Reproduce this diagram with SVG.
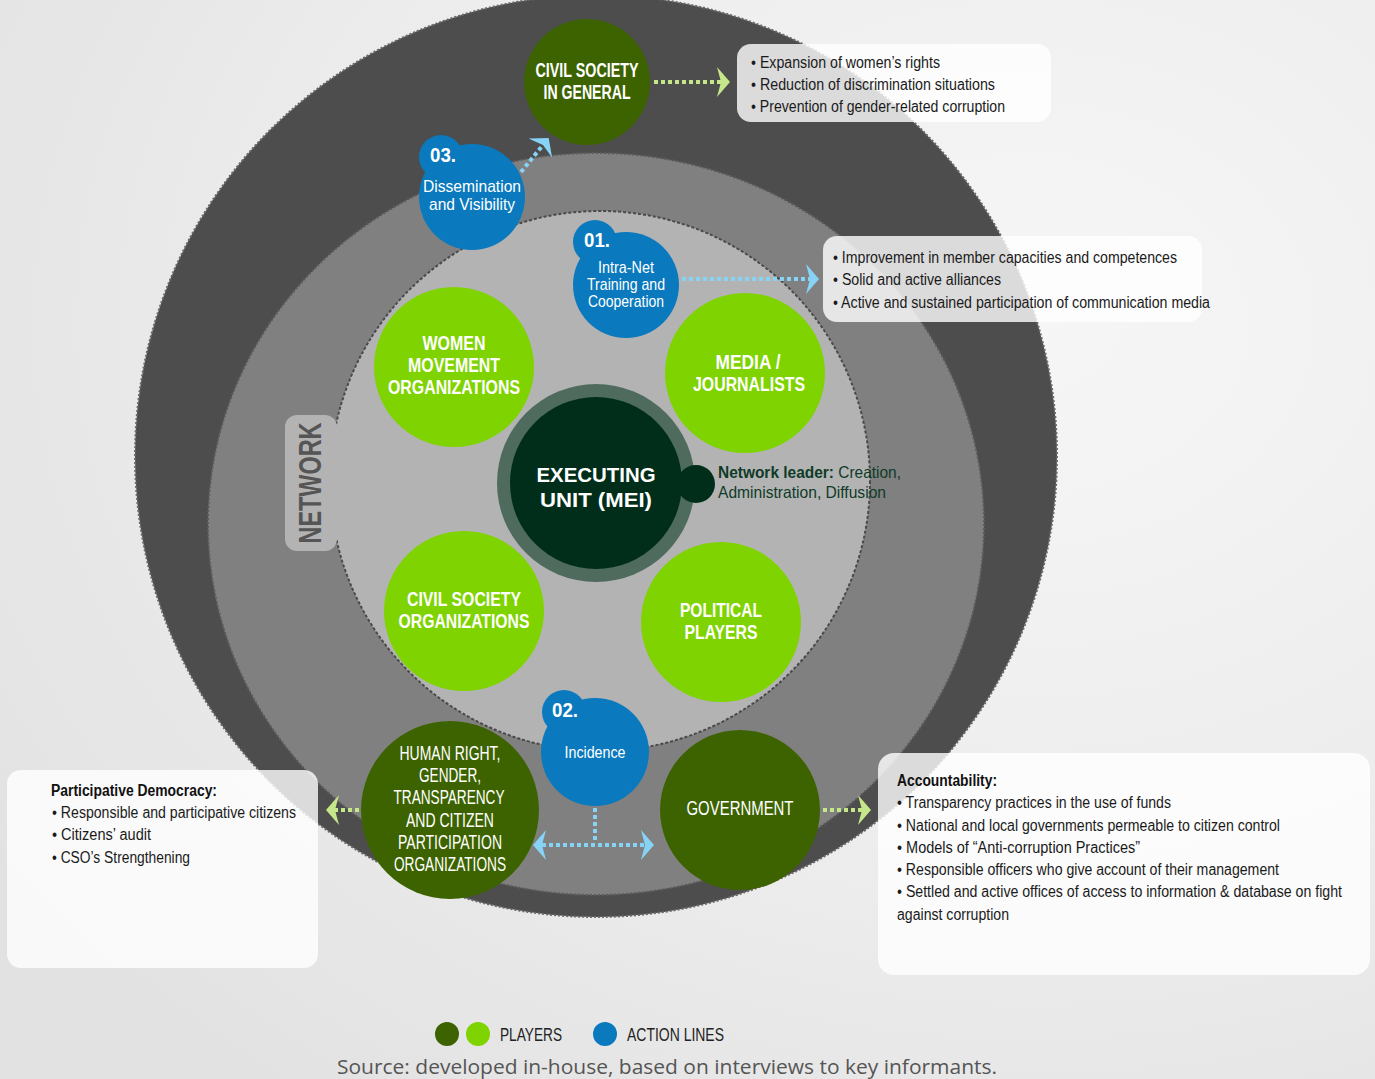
<svg xmlns="http://www.w3.org/2000/svg" width="1375" height="1079" viewBox="0 0 1375 1079">
<defs>
<radialGradient id="bg" cx="0.75" cy="0.3" r="0.9">
<stop offset="0" stop-color="#f6f6f6"/>
<stop offset="0.6" stop-color="#ececec"/>
<stop offset="1" stop-color="#e2e2e2"/>
</radialGradient>
<marker id="ag" markerUnits="userSpaceOnUse" markerWidth="16" markerHeight="30" refX="4" refY="15" orient="auto" viewBox="0 0 16 30"><path d="M0,0 L13,15 L0,30 L4,15 Z" fill="#c6e68a"/></marker>
<marker id="ab" markerUnits="userSpaceOnUse" markerWidth="16" markerHeight="30" refX="4" refY="15" orient="auto" viewBox="0 0 16 30"><path d="M0,0 L13,15 L0,30 L4,15 Z" fill="#86d3f5"/></marker>
<marker id="abs" markerUnits="userSpaceOnUse" markerWidth="16" markerHeight="30" refX="4" refY="15" orient="auto-start-reverse" viewBox="0 0 16 30"><path d="M0,0 L13,15 L0,30 L4,15 Z" fill="#86d3f5"/></marker>
</defs>
<style>
text{font-family:"Liberation Sans",Arial,sans-serif}
.box{fill:#ffffff;fill-opacity:0.8}
.bt{font-size:16px;fill:#1a1a1a}
.bb{font-size:16px;fill:#111;font-weight:bold}
.lbl{font-size:21px;fill:#fff;font-weight:bold;text-anchor:middle}
.lr{font-size:19.5px;fill:#fff;text-anchor:middle}
.al{font-size:17px;fill:#fff;text-anchor:middle}
.num{font-size:21px;fill:#fff;font-weight:bold}
.dg{fill:#3d6300}
.lg{fill:#7ed300}
.bl{fill:#0a79bd}
.cg{fill:none;stroke:#c6e68a;stroke-width:4;stroke-dasharray:4 3}
.cb{fill:none;stroke:#86d3f5;stroke-width:4;stroke-dasharray:4 3}
</style>
<rect width="1375" height="1079" fill="url(#bg)"/>
<g id="rings">
<circle cx="596" cy="456" r="461" fill="#4d4d4d" stroke="#6a6a6a" stroke-width="2" stroke-dasharray="2 2"/>
<ellipse cx="596" cy="524" rx="388" ry="371" fill="#808080" stroke="#5c5c5c" stroke-width="2" stroke-dasharray="2 2"/>
<circle cx="600" cy="481" r="270" fill="#b3b3b3" stroke="#4a4a4a" stroke-width="2" stroke-dasharray="3 2"/>
</g>
<g id="network-label">
<rect x="285" y="415" width="52" height="136" rx="12" fill="#b3b3b3"/>
<text transform="translate(321,483) rotate(-90)" text-anchor="middle" font-size="31" font-weight="bold" fill="#555" textLength="121" lengthAdjust="spacingAndGlyphs">NETWORK</text>
</g>
<g id="connectors">
<line class="cg" x1="654" y1="82" x2="721" y2="82" marker-end="url(#ag)"/>
<line class="cb" x1="682" y1="279" x2="810" y2="279" marker-end="url(#ab)"/>
<line class="cb" x1="521" y1="172" x2="543" y2="145" marker-end="url(#ab)"/>
<line class="cg" x1="359" y1="810" x2="335" y2="810" marker-end="url(#ag)"/>
<line class="cg" x1="823" y1="810" x2="862" y2="810" marker-end="url(#ag)"/>
<line class="cb" x1="595" y1="808" x2="595" y2="843"/>
<line class="cb" x1="542" y1="845" x2="645" y2="845" marker-start="url(#abs)" marker-end="url(#abs)"/>
</g>
<g id="box-civil">
<rect class="box" x="737" y="44" width="314" height="78" rx="14"/>
<text class="bt" x="751" y="68" textLength="189" lengthAdjust="spacingAndGlyphs">• Expansion of women’s rights</text>
<text class="bt" x="751" y="90" textLength="244" lengthAdjust="spacingAndGlyphs">• Reduction of discrimination situations</text>
<text class="bt" x="751" y="112" textLength="254" lengthAdjust="spacingAndGlyphs">• Prevention of gender-related corruption</text>
</g>
<g id="box-intranet">
<rect class="box" x="823" y="236" width="379" height="86" rx="14"/>
<text class="bt" x="833" y="263" textLength="344" lengthAdjust="spacingAndGlyphs">• Improvement in member capacities and competences</text>
<text class="bt" x="833" y="285" textLength="168" lengthAdjust="spacingAndGlyphs">• Solid and active alliances</text>
<text class="bt" x="833" y="308" textLength="377" lengthAdjust="spacingAndGlyphs">• Active and sustained participation of communication media</text>
</g>
<g id="box-democracy">
<rect class="box" x="7" y="770" width="311" height="198" rx="14"/>
<text class="bb" x="51" y="796" textLength="166" lengthAdjust="spacingAndGlyphs">Participative Democracy:</text>
<text class="bt" x="52" y="818" textLength="244" lengthAdjust="spacingAndGlyphs">• Responsible and participative citizens</text>
<text class="bt" x="52" y="840" textLength="99" lengthAdjust="spacingAndGlyphs">• Citizens’ audit</text>
<text class="bt" x="52" y="863" textLength="138" lengthAdjust="spacingAndGlyphs">• CSO’s Strengthening</text>
</g>
<g id="box-accountability">
<rect class="box" x="878" y="753" width="492" height="222" rx="16"/>
<text class="bb" x="897" y="786" textLength="100" lengthAdjust="spacingAndGlyphs">Accountability:</text>
<text class="bt" x="897" y="808" textLength="274" lengthAdjust="spacingAndGlyphs">• Transparency practices in the use of funds</text>
<text class="bt" x="897" y="831" textLength="383" lengthAdjust="spacingAndGlyphs">• National and local governments permeable to citizen control</text>
<text class="bt" x="897" y="853" textLength="243" lengthAdjust="spacingAndGlyphs">• Models of “Anti-corruption Practices”</text>
<text class="bt" x="897" y="875" textLength="382" lengthAdjust="spacingAndGlyphs">• Responsible officers who give account of their management</text>
<text class="bt" x="897" y="897" font-size="15" textLength="445" lengthAdjust="spacingAndGlyphs">• Settled and active offices of access to information &amp; database on fight</text>
<text class="bt" x="897" y="920" textLength="112" lengthAdjust="spacingAndGlyphs">against corruption</text>
</g>
<g id="civil-society-general">
<ellipse class="dg" cx="587" cy="82" rx="63" ry="63"/>
<text class="lbl" x="587" y="77" textLength="103" lengthAdjust="spacingAndGlyphs">CIVIL SOCIETY</text>
<text class="lbl" x="587" y="99" textLength="87" lengthAdjust="spacingAndGlyphs">IN GENERAL</text>
</g>
<g id="action-03">
<circle class="bl" cx="472" cy="197" r="53"/>
<circle class="bl" cx="441" cy="157" r="22"/>
<text class="num" x="430" y="162" textLength="26" lengthAdjust="spacingAndGlyphs">03.</text>
<text class="al" x="472" y="192" font-size="18" textLength="98" lengthAdjust="spacingAndGlyphs">Dissemination</text>
<text class="al" x="472" y="210" font-size="18" textLength="86" lengthAdjust="spacingAndGlyphs">and Visibility</text>
</g>
<g id="action-01">
<circle class="bl" cx="626" cy="285" r="53"/>
<circle class="bl" cx="595" cy="242" r="22"/>
<text class="num" x="584" y="247" textLength="26" lengthAdjust="spacingAndGlyphs">01.</text>
<text class="al" x="626" y="273" textLength="56" lengthAdjust="spacingAndGlyphs">Intra-Net</text>
<text class="al" x="626" y="290" textLength="78" lengthAdjust="spacingAndGlyphs">Training and</text>
<text class="al" x="626" y="307" textLength="76" lengthAdjust="spacingAndGlyphs">Cooperation</text>
</g>
<g id="women-movement">
<circle class="lg" cx="454" cy="367" r="80"/>
<text class="lbl" x="454" y="350" textLength="63" lengthAdjust="spacingAndGlyphs">WOMEN</text>
<text class="lbl" x="454" y="372" textLength="92" lengthAdjust="spacingAndGlyphs">MOVEMENT</text>
<text class="lbl" x="454" y="394" textLength="132" lengthAdjust="spacingAndGlyphs">ORGANIZATIONS</text>
</g>
<g id="media">
<circle class="lg" cx="745" cy="373" r="80"/>
<text class="lbl" x="748" y="369" textLength="65" lengthAdjust="spacingAndGlyphs">MEDIA /</text>
<text class="lbl" x="749" y="391" textLength="112" lengthAdjust="spacingAndGlyphs">JOURNALISTS</text>
</g>
<g id="executing-unit">
<circle cx="596" cy="483" r="99" fill="#4f6b5e"/>
<circle cx="596" cy="483" r="86" fill="#012e1b"/>
<circle cx="696" cy="484" r="19" fill="#012e1b"/>
<text class="lbl" x="596" y="482" font-size="32" textLength="119" lengthAdjust="spacingAndGlyphs">EXECUTING</text>
<text class="lbl" x="596" y="507" font-size="32" textLength="112" lengthAdjust="spacingAndGlyphs">UNIT (MEI)</text>
<text x="718" y="478" font-size="16.5" fill="#0f3b28" textLength="183" lengthAdjust="spacingAndGlyphs"><tspan font-weight="bold">Network leader:</tspan> Creation,</text>
<text x="718" y="498" font-size="16.5" fill="#0f3b28" textLength="168" lengthAdjust="spacingAndGlyphs">Administration, Diffusion</text>
</g>
<g id="civil-society-orgs">
<circle class="lg" cx="464" cy="611" r="80"/>
<text class="lbl" x="464" y="606" textLength="114" lengthAdjust="spacingAndGlyphs">CIVIL SOCIETY</text>
<text class="lbl" x="464" y="628" textLength="131" lengthAdjust="spacingAndGlyphs">ORGANIZATIONS</text>
</g>
<g id="political-players">
<circle class="lg" cx="721" cy="622" r="80"/>
<text class="lbl" x="721" y="617" textLength="82" lengthAdjust="spacingAndGlyphs">POLITICAL</text>
<text class="lbl" x="721" y="639" textLength="73" lengthAdjust="spacingAndGlyphs">PLAYERS</text>
</g>
<g id="human-right">
<circle class="dg" cx="450" cy="810" r="89"/>
<text class="lr" x="450" y="760" textLength="101" lengthAdjust="spacingAndGlyphs">HUMAN RIGHT,</text>
<text class="lr" x="450" y="782" textLength="62" lengthAdjust="spacingAndGlyphs">GENDER,</text>
<text class="lr" x="449" y="804" textLength="111" lengthAdjust="spacingAndGlyphs">TRANSPARENCY</text>
<text class="lr" x="450" y="827" textLength="88" lengthAdjust="spacingAndGlyphs">AND CITIZEN</text>
<text class="lr" x="450" y="849" textLength="104" lengthAdjust="spacingAndGlyphs">PARTICIPATION</text>
<text class="lr" x="450" y="871" textLength="112" lengthAdjust="spacingAndGlyphs">ORGANIZATIONS</text>
</g>
<g id="action-02">
<circle class="bl" cx="595" cy="752" r="54"/>
<circle class="bl" cx="564" cy="712" r="22"/>
<text class="num" x="552" y="717" textLength="26" lengthAdjust="spacingAndGlyphs">02.</text>
<text class="al" x="595" y="758" textLength="61" lengthAdjust="spacingAndGlyphs">Incidence</text>
</g>
<g id="government">
<circle class="dg" cx="740" cy="810" r="80"/>
<text class="lr" x="740" y="815" font-size="20.5" textLength="107" lengthAdjust="spacingAndGlyphs">GOVERNMENT</text>
</g>
<g id="legend">
<circle class="dg" cx="447" cy="1034" r="12"/>
<circle class="lg" cx="478" cy="1034" r="12"/>
<text x="500" y="1041" font-size="18" fill="#222" textLength="62" lengthAdjust="spacingAndGlyphs">PLAYERS</text>
<circle class="bl" cx="605" cy="1034" r="12"/>
<text x="627" y="1041" font-size="18" fill="#222" textLength="97" lengthAdjust="spacingAndGlyphs">ACTION LINES</text>
<text x="337" y="1074" font-size="20" fill="#555" style="font-family:'Open Sans',sans-serif" textLength="660" lengthAdjust="spacingAndGlyphs">Source: developed in-house, based on interviews to key informants.</text>
</g>
</svg>
